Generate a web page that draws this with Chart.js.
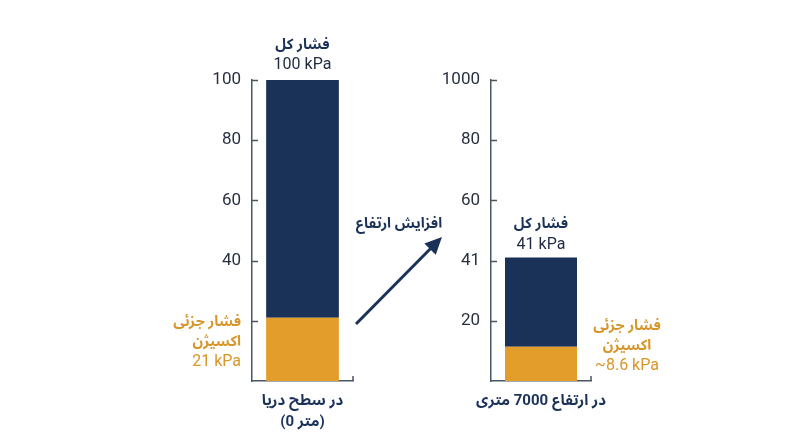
<!DOCTYPE html>
<html>
<head>
<meta charset="utf-8">
<script src="https://cdn.jsdelivr.net/npm/chart.js@4/dist/chart.umd.min.js"></script>
<style>
  html, body { margin: 0; padding: 0; background: #fff; }
  #wrap { position: relative; width: 800px; height: 447px; }
  #wrap canvas { position: absolute; left: 0; top: 0; }
</style>
</head>
<body>
<div id="wrap">
  <canvas id="leftChart" width="800" height="447"></canvas>
  <canvas id="rightChart" width="800" height="447"></canvas>
</div>
<script>
// داده‌ها
const categories = [["در سطح دریا", "(0 متر)"], "در ارتفاع 7000 متری"];
const totalValues = [100, 41];
const oxygenValues = [21, 11.4];          // ارتفاع نارنجی همان‌طور که کشیده شده
const totalLabels = ["100 kPa", "41 kPa"];
const oxygenLabels = ["21 kPa", "~8.6 kPa"];
const leftTickLabels = ["", "", "40", "60", "80", "100"];
const rightTickLabels = ["", "20", "41", "60", "80", "1000"];

const NAVY = "#1b3258";
const ORANGE = "#e29d2b";
const AXIS = "#4b5563";
const FONT = "Roboto, 'Noto Sans Arabic', 'DejaVu Sans', sans-serif";

Chart.defaults.font.family = FONT;

// برچسب‌ها، تیک‌های داخلی و فلش
const panelLabels = {
  id: "panelLabels",
  afterDraw(chart, args, opts) {
    const ctx = chart.ctx;
    const area = chart.chartArea;
    const yScale = chart.scales.y;
    const bar = chart.getDatasetMeta(1).data[0];

    ctx.save();
    // تیک‌های رو به داخل
    ctx.strokeStyle = AXIS;
    ctx.lineWidth = 1.5;
    yScale.ticks.forEach(t => {
      if (t.value === 0) return;
      const y = Math.round(yScale.getPixelForValue(t.value)) + 0.5;
      ctx.beginPath();
      ctx.moveTo(area.left, y);
      ctx.lineTo(area.left + 6, y);
      ctx.stroke();
    });
    ctx.beginPath();
    ctx.moveTo(area.right, area.bottom);
    ctx.lineTo(area.right, area.bottom - 5);
    ctx.stroke();

    ctx.textAlign = "center";
    ctx.textBaseline = "middle";
    // فشار کل
    ctx.fillStyle = NAVY;
    ctx.font = "bold 14.5px " + FONT;
    ctx.fillText("فشار کل", bar.x, bar.y - opts.topGap - 20);
    ctx.fillStyle = "#1f2a40";
    ctx.font = "16px " + FONT;
    ctx.fillText(totalLabels[opts.index], bar.x, bar.y - opts.topGap);

    // فشار جزئی اکسیژن
    let lx;
    if (opts.o2Side === "left") {
      ctx.textAlign = "right";
      lx = area.left - 11;
    } else {
      ctx.textAlign = "center";
      lx = area.right + 36;
    }
    const by = area.bottom;
    ctx.fillStyle = "#d8962a";
    ctx.font = "bold 14.5px " + FONT;
    ctx.fillText("فشار جزئی", lx, by - opts.o2Gap - 40);
    ctx.fillText("اکسیژن", lx, by - opts.o2Gap - 20);
    ctx.font = "16px " + FONT;
    ctx.fillText(oxygenLabels[opts.index], lx, by - opts.o2Gap);

    // فلش افزایش ارتفاع
    if (opts.arrow) {
      const x0 = area.right + 3, y0 = area.bottom - 57;
      const x1 = x0 + 86, y1 = y0 - 87;
      const ang = Math.atan2(y1 - y0, x1 - x0);
      ctx.strokeStyle = NAVY;
      ctx.fillStyle = NAVY;
      ctx.lineWidth = 3;
      ctx.beginPath();
      ctx.moveTo(x0, y0);
      ctx.lineTo(x1 - 12 * Math.cos(ang), y1 - 12 * Math.sin(ang));
      ctx.stroke();
      ctx.beginPath();
      ctx.moveTo(x1, y1);
      ctx.lineTo(x1 - 17 * Math.cos(ang) + 8 * Math.sin(ang), y1 - 17 * Math.sin(ang) - 8 * Math.cos(ang));
      ctx.lineTo(x1 - 17 * Math.cos(ang) - 8 * Math.sin(ang), y1 - 17 * Math.sin(ang) + 8 * Math.cos(ang));
      ctx.closePath();
      ctx.fill();
      ctx.textAlign = "center";
      ctx.font = "bold 14.5px " + FONT;
      ctx.fillText("افزایش ارتفاع", x0 + 43, y1 - 13);
    }
    ctx.restore();
  }
};

function makePanel(id, i, tickLabels, padLeft, padRight, extra) {
  return new Chart(document.getElementById(id), {
    type: "bar",
    data: {
      labels: [categories[i]],
      datasets: [
        { data: [oxygenValues[i]], backgroundColor: ORANGE, borderWidth: 0 },
        { data: [totalValues[i] - oxygenValues[i]], backgroundColor: NAVY, borderWidth: 0 }
      ]
    },
    options: {
      responsive: false,
      animation: false,
      events: [],
      layout: { padding: { left: padLeft, right: padRight, top: 80, bottom: 0 } },
      datasets: { bar: { barPercentage: 0.72, categoryPercentage: 1 } },
      plugins: {
        legend: { display: false },
        tooltip: { enabled: false },
        panelLabels: Object.assign({ index: i }, extra)
      },
      scales: {
        x: {
          stacked: true,
          grid: { display: false, drawTicks: false },
          border: { display: true, color: AXIS, width: 1.5 },
          ticks: {
            color: NAVY,
            padding: 10,
            font: { size: 15, weight: "bold", lineHeight: 1.4 }
          },
          afterFit: s => { s.height = 66; }
        },
        y: {
          stacked: true,
          min: 0,
          max: 100,
          grid: { display: false, drawTicks: false },
          border: { display: true, color: AXIS, width: 1.5 },
          ticks: {
            stepSize: 20,
            padding: 11,
            color: "#2a3040",
            font: { size: 17 },
            callback: v => tickLabels[Math.round(v / 20)]
          },
          afterFit: s => { s.width = 70; }
        }
      }
    },
    plugins: [panelLabels]
  });
}

makePanel("leftChart", 0, leftTickLabels, 182, 447,
  { o2Side: "left", topGap: 15, o2Gap: 19, arrow: true });
makePanel("rightChart", 1, rightTickLabels, 421, 209,
  { o2Side: "right", topGap: 13, o2Gap: 15, arrow: false });
</script>
</body>
</html>
